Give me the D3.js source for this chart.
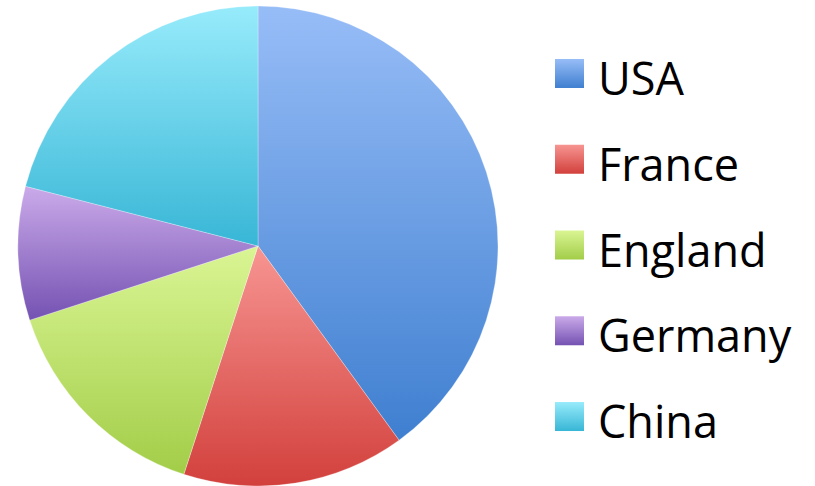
<!DOCTYPE html>
<html>
<head>
<meta charset="utf-8">
<script src="https://cdn.jsdelivr.net/npm/d3@7"></script>
<style>
  html, body { margin: 0; padding: 0; background: #fff; }
  svg { display: block; }
</style>
</head>
<body>
<svg id="chart" width="815" height="486"></svg>
<script>
// Share of each country (percent)
const categories = ["USA", "France", "England", "Germany", "China"];
const values = [40, 15, 15, 9, 21];

// Light (top) and dark (bottom) stops for each slice's vertical gradient
const lightColors = ["#97bdf7", "#f79592", "#daf594", "#cbaaea", "#97ebfb"];
const darkColors  = ["#3f7fd0", "#d2403c", "#a2cd48", "#7452b2", "#38b6d6"];

const svg = d3.select("#chart");
const cx = 258, cy = 246, radius = 240;

const defs = svg.append("defs");
categories.forEach((c, i) => {
  const g = defs.append("linearGradient")
    .attr("id", "grad" + i)
    .attr("x1", 0).attr("y1", 0).attr("x2", 0).attr("y2", 1);
  g.append("stop").attr("offset", "0%").attr("stop-color", lightColors[i]);
  g.append("stop").attr("offset", "100%").attr("stop-color", darkColors[i]);
});

const pie = d3.pie().sort(null).value(d => d);
const arc = d3.arc().innerRadius(0).outerRadius(radius);

const pieG = svg.append("g").attr("transform", `translate(${cx},${cy})`);
pieG.selectAll("path")
  .data(pie(values))
  .join("path")
  .attr("d", arc)
  .attr("fill", (d, i) => `url(#grad${i})`)
  .attr("stroke", "rgba(255,255,255,0.35)")
  .attr("stroke-width", 0.8);

// Legend
const legendY = d3.scaleBand()
  .domain(categories)
  .range([30.6, 459.4]);

const legend = svg.append("g");
const item = legend.selectAll("g")
  .data(categories)
  .join("g")
  .attr("transform", d => `translate(555, ${legendY(d) + legendY.bandwidth() / 2})`);

item.append("rect")
  .attr("x", 0).attr("y", -14.5)
  .attr("width", 29).attr("height", 29)
  .attr("fill", (d, i) => `url(#grad${i})`);

item.append("text")
  .attr("x", 43).attr("y", 21.5)
  .attr("font-family", "'Open Sans', sans-serif")
  .attr("font-size", 45)
  .attr("fill", "#000")
  .text(d => d);
</script>
</body>
</html>
